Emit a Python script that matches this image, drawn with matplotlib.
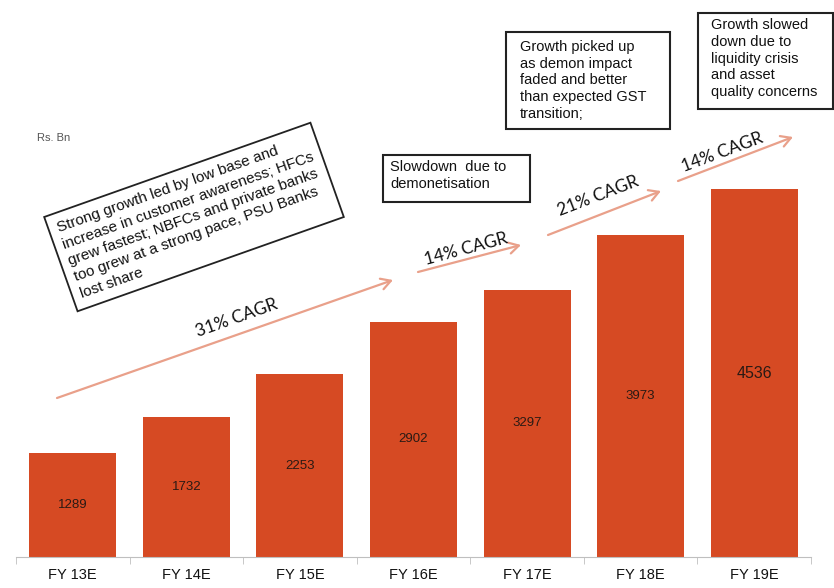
import numpy as np
import matplotlib
matplotlib.use("Agg")
import matplotlib.pyplot as plt
from matplotlib.patches import Rectangle

# data
years = ["FY 13E", "FY 14E", "FY 15E", "FY 16E", "FY 17E", "FY 18E", "FY 19E"]
values = [1289, 1732, 2253, 2902, 3297, 3973, 4536]
cagr_labels = ["31% CAGR", "14% CAGR", "21% CAGR", "14% CAGR"]

W, H = 834, 588
BAR = "#D64A23"
ARROW = "#E9A08A"
SANS = "Liberation Sans"


def px(x, y):
    """image pixel (from top-left) -> figure fraction"""
    return x / W, 1 - y / H


fig = plt.figure(figsize=(W / 100, H / 100), dpi=100)
ax = fig.add_axes([16 / W, 31 / H, (811 - 16) / W, 557 / H])

x = np.arange(len(years))
ax.bar(x, values, width=0.765, color=BAR, zorder=2)
ax.set_xlim(-0.5, len(years) - 0.5)
ax.set_ylim(0, 6873)

for i, v in enumerate(values):
    big = i == len(values) - 1
    ax.text(i, v / 2, str(v), ha="center", va="center",
            fontsize=11.5 if big else 9.5, color="#2a1a14",
            family=SANS, zorder=3)

for s in ["top", "right", "left"]:
    ax.spines[s].set_visible(False)
ax.spines["bottom"].set_color("#BFBFBF")
ax.set_yticks([])
ax.set_xticks(x)
ax.set_xticklabels(years, fontsize=10.5, family=SANS, color="#111111")
ax.tick_params(axis="x", which="major", length=0, pad=8)
ax.set_xticks(np.arange(-0.5, len(years)), minor=True)
ax.tick_params(axis="x", which="minor", length=5, color="#BFBFBF")

fig.text(*px(37, 138), "Rs. Bn", fontsize=8, color="#555555",
         family=SANS, va="center")

# CAGR arrows: start, end, label centre, rotation
arrows = [((57, 398), (393, 280), (237, 318), 19.5),
          ((418, 272), (521, 245), (466, 249), 15),
          ((548, 235), (661, 191), (598, 196), 21),
          ((678, 181), (793, 137), (722, 152), 20.5)]
for lab, (p0, p1, pc, rot) in zip(cagr_labels, arrows):
    ax.annotate("", xy=px(*p1), xytext=px(*p0), xycoords="figure fraction",
                textcoords="figure fraction", annotation_clip=False,
                arrowprops=dict(arrowstyle="->,head_length=0.7,head_width=0.4",
                                color=ARROW, lw=1.6, shrinkA=0, shrinkB=0))
    fig.text(*px(*pc), lab, rotation=rot, ha="center", va="center",
             rotation_mode="anchor", fontsize=12.5, family="Lato", color="#111111")

# rotated comment box
fig.text(*px(194, 217),
         "Strong growth led by low base and\nincrease in customer awareness; HFCs\n"
         "grew fastest; NBFCs and private banks\ntoo grew at a strong pace, PSU Banks\nlost share",
         rotation=19.5, rotation_mode="anchor", ha="center", va="center",
         multialignment="left", fontsize=11, linespacing=1.3,
         family=SANS, color="#111111",
         bbox=dict(boxstyle="square,pad=0.55", fc="white", ec="#222222", lw=1.3))

# straight comment boxes: (x0, y0, x1, y1), text origin, text
boxes = [((383, 155, 530, 202), (390, 160), "Slowdown  due to\ndemonetisation"),
         ((506, 32, 670, 129), (520, 40),
          "Growth picked up\nas demon impact\nfaded and better\nthan expected GST\ntransition;"),
         ((698, 13, 833, 109), (711, 18),
          "Growth slowed\ndown due to\nliquidity crisis\nand asset\nquality concerns")]
for (x0, y0, x1, y1), (tx, ty), txt in boxes:
    fx0, fy1 = px(x0, y1)
    fig.patches.append(Rectangle((fx0, fy1), (x1 - x0) / W, (y1 - y0) / H,
                                 transform=fig.transFigure, fc="white",
                                 ec="#222222", lw=1.5))
    fig.text(*px(tx, ty), txt, ha="left", va="top", fontsize=10.5,
             linespacing=1.25, family=SANS, color="#111111")

fig.savefig("out.png", dpi=100)
